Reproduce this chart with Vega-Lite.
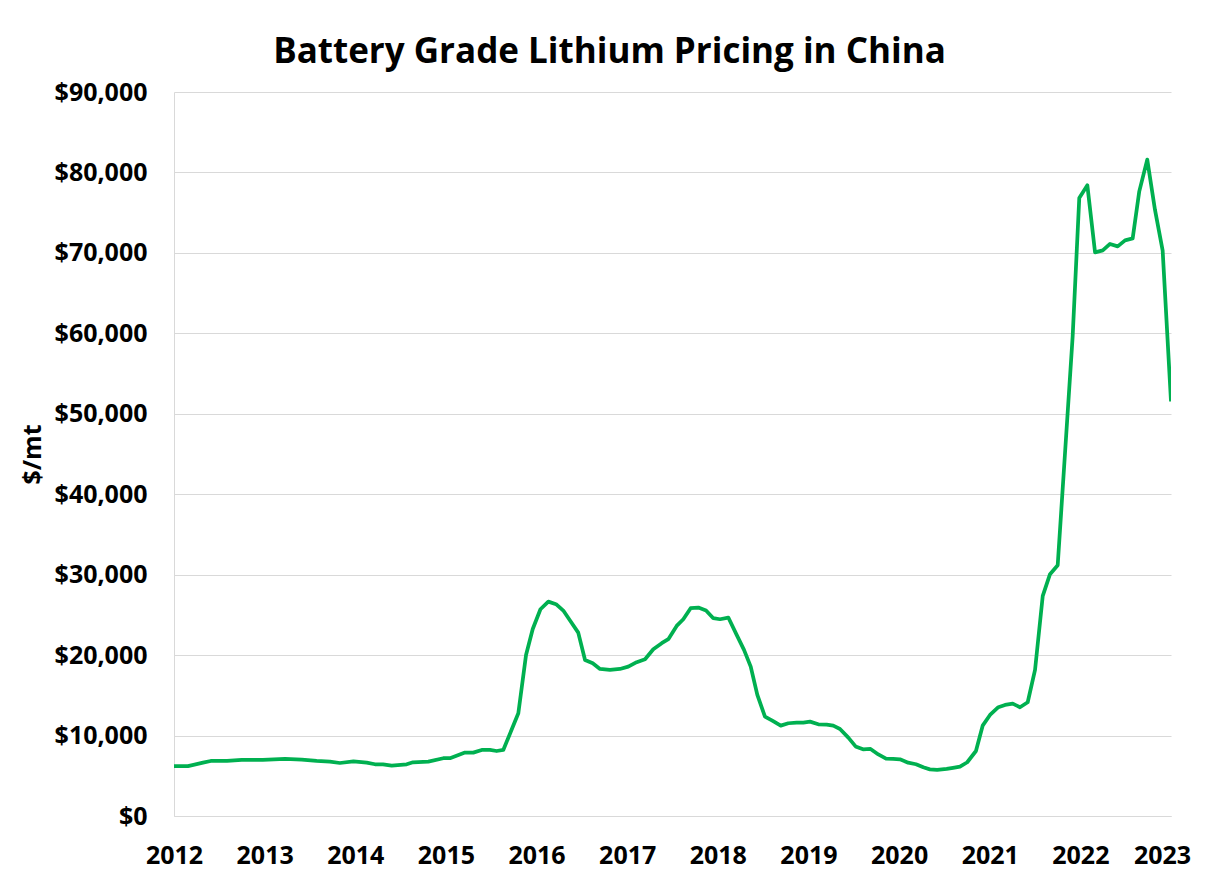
{
  "$schema": "https://vega.github.io/schema/vega-lite/v6.json",
  "autosize": {"type": "none"},
  "width": 997,
  "height": 724,
  "padding": {"left": 174, "top": 92, "right": 35, "bottom": 56},
  "background": "white",
  "title": {
    "text": "Battery Grade Lithium Pricing in China",
    "anchor": "middle",
    "frame": "group",
    "dx": -63,
    "dy": 42,
    "font": "Open Sans",
    "fontSize": 35,
    "fontWeight": "bold",
    "color": "#000000",
    "baseline": "alphabetic",
    "offset": 24
  },
  "config": {
    "view": {"stroke": null},
    "axis": {
      "labelFont": "Open Sans",
      "labelFontSize": 25,
      "labelFontWeight": "bold",
      "labelColor": "#000000",
      "titleFont": "Open Sans",
      "titleFontSize": 25,
      "titleFontWeight": "bold",
      "titleColor": "#000000",
      "gridColor": "#d9d9d9",
      "gridWidth": 1,
      "domainColor": "#d9d9d9",
      "domainWidth": 1,
      "ticks": false
    }
  },
  "data": {
    "values": [
      {"year": 2012.0, "price": 6200},
      {"year": 2012.154, "price": 6200},
      {"year": 2012.32, "price": 6630},
      {"year": 2012.405, "price": 6840},
      {"year": 2012.585, "price": 6840},
      {"year": 2012.747, "price": 6970},
      {"year": 2012.98, "price": 6970},
      {"year": 2013.225, "price": 7090},
      {"year": 2013.41, "price": 7000},
      {"year": 2013.574, "price": 6840},
      {"year": 2013.72, "price": 6760},
      {"year": 2013.83, "price": 6590},
      {"year": 2013.98, "price": 6800},
      {"year": 2014.126, "price": 6630},
      {"year": 2014.218, "price": 6430},
      {"year": 2014.306, "price": 6430},
      {"year": 2014.402, "price": 6260},
      {"year": 2014.567, "price": 6430},
      {"year": 2014.637, "price": 6680},
      {"year": 2014.806, "price": 6760},
      {"year": 2014.971, "price": 7180},
      {"year": 2015.045, "price": 7180},
      {"year": 2015.21, "price": 7880},
      {"year": 2015.302, "price": 7880},
      {"year": 2015.395, "price": 8210},
      {"year": 2015.486, "price": 8210},
      {"year": 2015.56, "price": 8080},
      {"year": 2015.633, "price": 8210},
      {"year": 2015.799, "price": 12770},
      {"year": 2015.884, "price": 20020},
      {"year": 2015.958, "price": 23250},
      {"year": 2016.043, "price": 25700},
      {"year": 2016.13, "price": 26650},
      {"year": 2016.215, "price": 26330},
      {"year": 2016.295, "price": 25540},
      {"year": 2016.377, "price": 24170},
      {"year": 2016.46, "price": 22800},
      {"year": 2016.535, "price": 19400},
      {"year": 2016.62, "price": 18990},
      {"year": 2016.7, "price": 18280},
      {"year": 2016.81, "price": 18160},
      {"year": 2016.92, "price": 18280},
      {"year": 2017.012, "price": 18570},
      {"year": 2017.105, "price": 19120},
      {"year": 2017.197, "price": 19490},
      {"year": 2017.288, "price": 20730},
      {"year": 2017.381, "price": 21480},
      {"year": 2017.454, "price": 21980},
      {"year": 2017.546, "price": 23630},
      {"year": 2017.619, "price": 24460},
      {"year": 2017.7, "price": 25830},
      {"year": 2017.785, "price": 25910},
      {"year": 2017.87, "price": 25540},
      {"year": 2017.95, "price": 24590},
      {"year": 2018.024, "price": 24460},
      {"year": 2018.116, "price": 24670},
      {"year": 2018.208, "price": 22510},
      {"year": 2018.289, "price": 20650},
      {"year": 2018.363, "price": 18570},
      {"year": 2018.436, "price": 15050},
      {"year": 2018.52, "price": 12350},
      {"year": 2018.606, "price": 11820},
      {"year": 2018.694, "price": 11230},
      {"year": 2018.778, "price": 11530},
      {"year": 2018.87, "price": 11610},
      {"year": 2018.943, "price": 11610},
      {"year": 2019.017, "price": 11730},
      {"year": 2019.109, "price": 11400},
      {"year": 2019.201, "price": 11360},
      {"year": 2019.274, "price": 11230},
      {"year": 2019.348, "price": 10820},
      {"year": 2019.44, "price": 9740},
      {"year": 2019.52, "price": 8650},
      {"year": 2019.602, "price": 8290},
      {"year": 2019.685, "price": 8330},
      {"year": 2019.771, "price": 7650},
      {"year": 2019.856, "price": 7130},
      {"year": 2019.934, "price": 7100},
      {"year": 2020.01, "price": 7050},
      {"year": 2020.1, "price": 6630},
      {"year": 2020.187, "price": 6430},
      {"year": 2020.267, "price": 6050},
      {"year": 2020.34, "price": 5800},
      {"year": 2020.42, "price": 5720},
      {"year": 2020.525, "price": 5850},
      {"year": 2020.595, "price": 5990},
      {"year": 2020.672, "price": 6130},
      {"year": 2020.752, "price": 6680},
      {"year": 2020.848, "price": 8080},
      {"year": 2020.922, "price": 11230},
      {"year": 2021.003, "price": 12560},
      {"year": 2021.095, "price": 13520},
      {"year": 2021.169, "price": 13810},
      {"year": 2021.254, "price": 13970},
      {"year": 2021.334, "price": 13520},
      {"year": 2021.419, "price": 14140},
      {"year": 2021.5, "price": 18160},
      {"year": 2021.585, "price": 27360},
      {"year": 2021.665, "price": 30060},
      {"year": 2021.75, "price": 31180},
      {"year": 2021.83, "price": 45000},
      {"year": 2021.915, "price": 59620},
      {"year": 2021.988, "price": 76830},
      {"year": 2022.077, "price": 78400},
      {"year": 2022.162, "price": 70060},
      {"year": 2022.247, "price": 70310},
      {"year": 2022.327, "price": 71110},
      {"year": 2022.412, "price": 70810},
      {"year": 2022.493, "price": 71560},
      {"year": 2022.577, "price": 71800},
      {"year": 2022.65, "price": 77650},
      {"year": 2022.738, "price": 81590},
      {"year": 2022.823, "price": 75370},
      {"year": 2022.908, "price": 70270},
      {"year": 2023.0, "price": 51530}
    ]
  },
  "mark": {"type": "line", "color": "#00B050", "strokeWidth": 3.75, "strokeJoin": "round", "clip": true},
  "encoding": {
    "x": {
      "field": "year",
      "type": "quantitative",
      "scale": {"domain": [2012, 2023], "nice": false, "zero": false},
      "axis": {
        "values": [2012, 2013, 2014, 2015, 2016, 2017, 2018, 2019, 2020, 2021, 2022, 2023],
        "format": "d",
        "grid": false,
        "title": null,
        "labelPadding": 27,
        "labelFlush": false,
        "labelOverlap": false,
        "labelOffset": {"condition": {"test": "datum.value === 2023", "value": -9}, "value": 0}
      }
    },
    "y": {
      "field": "price",
      "type": "quantitative",
      "scale": {"domain": [0, 90000], "nice": false},
      "axis": {
        "values": [0, 10000, 20000, 30000, 40000, 50000, 60000, 70000, 80000, 90000],
        "format": "$,.0f",
        "title": "$/mt",
        "labelPadding": 27,
        "titleX": -142,
        "titleY": 362,
        "titleBaseline": "middle",
        "titleAngle": -90
      }
    }
  }
}
